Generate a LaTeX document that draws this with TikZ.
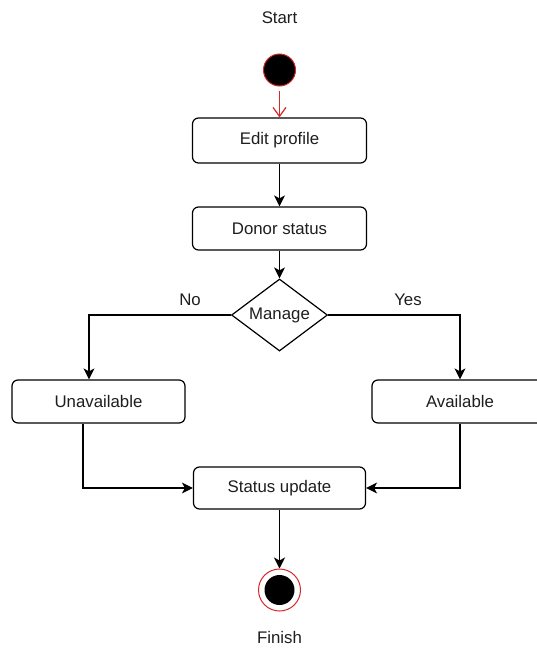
\documentclass[tikz,border=0pt]{standalone}
\usepackage{fontspec}
\setmainfont{Liberation Sans}
\usetikzlibrary{shapes.geometric,arrows.meta,calc}
\definecolor{umlred}{RGB}{214,40,40}
\definecolor{txt}{RGB}{30,30,30}
\begin{document}
\begin{tikzpicture}[x=1pt,y=-1pt,
  every node/.style={font=\fontsize{16.8}{19}\selectfont, text=txt},
  actbox/.style={draw=black, line width=1.2pt, rounded corners=6pt, fill=white, inner sep=0pt},
  arr/.style={draw=black, line width=1.2pt, -{Stealth[length=11pt,width=11pt,inset=3pt]}},
  redarr/.style={draw=umlred, line width=1.2pt, -{Straight Barb[length=9pt,width=13pt,line width=1.2pt]}},
  lbl/.style={inner sep=0pt}]
\useasboundingbox (0,0) rectangle (537,651);
\fill[white] (0,0) rectangle (537,651);

\node[lbl] (starttxt) at (279.5,18) {Start};
\node[circle, draw=umlred, line width=1pt, fill=black, minimum size=32pt, inner sep=0pt] (start) at (279.5,70) {};

\node[actbox, minimum width=174pt, minimum height=45pt] (edit) at (279.5,140.5) {Edit profile};
\node[actbox, minimum width=174pt, minimum height=43pt] (donor) at (279.5,228.5) {Donor status};
\node[diamond, draw=black, line width=1.2pt, fill=white, inner sep=0pt, aspect=1.333,
      minimum width=96pt, minimum height=72pt] (manage) at (279.5,315) {Manage};

\node[actbox, minimum width=173pt, minimum height=43pt] (unavail) at (98.5,401.5) {Unavailable};
\node[actbox, minimum width=176pt, minimum height=43pt] (avail) at (460,401.5) {Available};
\node[actbox, minimum width=172pt, minimum height=42pt] (status) at (279.5,488) {Status update};

\node[circle, draw=umlred, line width=1pt, fill=white, minimum size=42pt, inner sep=0pt] (finish) at (279.5,590) {};
\node[circle, fill=black, minimum size=30pt, inner sep=0pt] (finishin) at (finish.center) {};
\node[lbl] (finishtxt) at (279.5,637) {Finish};

\node[lbl] (nolab) at (190,300) {No};
\node[lbl] (yeslab) at (408,300) {Yes};

\draw[redarr] (start.south) ++(0,4) -- (edit.north);
\draw[arr] (edit.south) -- (donor.north);
\draw[arr] (donor.south) -- (manage.north);
\draw[arr] (manage.west) -| ([xshift=-9.5pt]unavail.north);
\draw[arr] (manage.east) -| (avail.north);
\draw[arr] ([xshift=-15.5pt]unavail.south) |- (status.west);
\draw[arr] (avail.south) |- (status.east);
\draw[arr] (status.south) -- (finish.north);
\end{tikzpicture}
\end{document}
